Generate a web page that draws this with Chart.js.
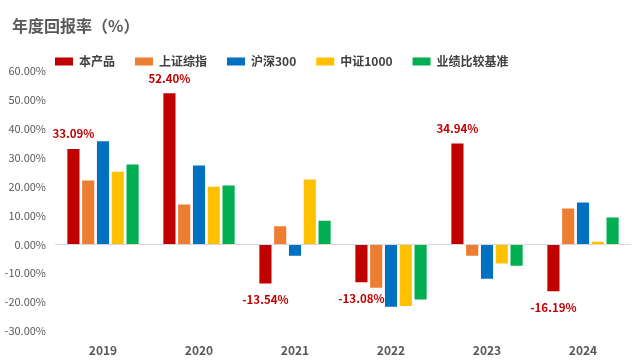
<!DOCTYPE html>
<html><head><meta charset="utf-8">
<script src="https://cdn.jsdelivr.net/npm/chart.js@4"></script>
<style>html,body{margin:0;padding:0;background:#fff}#wrap{width:641px;height:360px}</style>
</head><body><div id="wrap"><canvas id="c"></canvas></div>
<script>
const categories = ["2019","2020","2021","2022","2023","2024"];
const seriesNames = ["本产品","上证综指","沪深300","中证1000","业绩比较基准"];
const product = [33.09, 52.40, -13.54, -13.08, 34.94, -16.19];
const shIndex = [22.1, 13.8, 6.3, -15.0, -3.9, 12.4];
const csi300 = [35.7, 27.3, -3.9, -21.6, -11.9, 14.5];
const csi1000 = [25.2, 20.0, 22.5, -21.3, -6.6, 0.9];
const benchmark = [27.7, 20.4, 8.2, -19.1, -7.4, 9.3];
const yTicks = [-30, -20, -10, 0, 10, 20, 30, 40, 50, 60];
const colors = ["#C00000","#ED7D31","#0070C0","#FFC000","#00B050"];
const FONT = '"Noto Sans CJK SC", "Microsoft YaHei", sans-serif';

const shiftPlugin = {
  id: 'shift',
  afterLayout(chart){
    if (chart.titleBlock){ chart.titleBlock.left = 12; chart.titleBlock.top = 12.5; }
    if (chart.legend){ chart.legend.left = 35; chart.legend.top = 35.5; }
  }
};
const labelPlugin = {
  id: 'redLabels',
  afterDatasetsDraw(chart){
    const ctx = chart.ctx;
    const meta = chart.getDatasetMeta(0);
    const data = chart.data.datasets[0].data;
    ctx.save();
    ctx.font = 'bold 11.5px ' + FONT;
    ctx.fillStyle = '#C00000';
    ctx.textAlign = 'center';
    ctx.textBaseline = 'middle';
    meta.data.forEach((bar, i) => {
      const v = data[i];
      const y = v >= 0 ? bar.y - 15 : bar.y + 16;
      ctx.fillText(v.toFixed(2) + '%', bar.x, y);
    });
    ctx.restore();
  }
};

const seriesData = [product, shIndex, csi300, csi1000, benchmark];
new Chart(document.getElementById('c'), {
  type: 'bar',
  data: {
    labels: categories,
    datasets: seriesNames.map((n, i) => ({
      label: n, data: seriesData[i], backgroundColor: colors[i],
      categoryPercentage: 0.77, barPercentage: 0.82
    }))
  },
  options: {
    responsive: true, maintainAspectRatio: false, animation: false,
    layout: { padding: { left: 2, right: 10, top: 0, bottom: 0 } },
    plugins: {
      title: { display: true, text: '年度回报率（%）', align: 'start', color: '#595959',
        font: { family: FONT, size: 16, weight: 'bold' }, padding: { top: 4, bottom: 6 } },
      legend: { position: 'top', align: 'start',
        labels: { boxWidth: 18, boxHeight: 8, padding: 20, color: '#404040',
          font: { family: FONT, size: 12, weight: 'bold' } } },
      tooltip: { enabled: false }
    },
    scales: {
      x: { grid: { display: false, drawTicks: false, tickLength: 0 }, border: { display: false },
        afterFit(scale){ scale.height = 29; },
        ticks: { color: '#595959', padding: 12, font: { family: FONT, size: 12, weight: 'bold' } } },
      y: { min: -30, max: 60, border: { display: false },
        afterFit(scale){ scale.width = 53; },
        afterBuildTicks(axis){ axis.ticks = yTicks.map(v => ({ value: v })); },
        grid: { drawTicks: false, color: ctx => (ctx.tick && ctx.tick.value === 0) ? '#D9D9D9' : 'rgba(0,0,0,0)' },
        ticks: { color: '#595959', padding: 9, font: { family: FONT, size: 11 },
          callback: v => v.toFixed(2) + '%' } }
    }
  },
  plugins: [shiftPlugin, labelPlugin]
});
</script></body></html>
